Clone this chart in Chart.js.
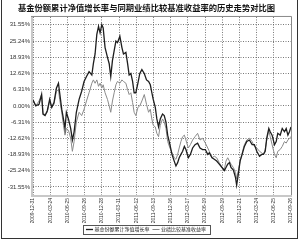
<!DOCTYPE html>
<html>
<head>
<meta charset="utf-8">
<script src="https://cdn.jsdelivr.net/npm/chart.js@4"></script>
<style>
  html, body { margin: 0; padding: 0; background: #fff; }
  #wrap { width: 300px; height: 242px; }
</style>
</head>
<body>
<div id="wrap"><canvas id="navChart" width="300" height="242"></canvas></div>
<script>
// Tick labels along the bottom axis (one per vertical grid line)
const dateTicks = ['2009-12-31', '2010-03-24', '2010-06-25', '2010-09-26', '2010-12-28', '2011-03-11',
    '2011-06-12', '2011-09-13', '2011-12-16', '2012-03-17', '2012-06-19', '2012-09-19',
    '2012-12-21', '2013-03-24', '2013-06-25', '2013-09-26'];

// Position of each sample, measured in date-tick units (0 = first tick)
const datePos = [0, 0.16, 0.35, 0.5, 0.58, 0.7, 0.83, 0.97, 1.09, 1.22,
    1.36, 1.48, 1.55, 1.67, 1.77, 1.86, 1.94, 2.06, 2.19, 2.29,
    2.39, 2.52, 2.68, 2.83, 2.97, 3.11, 3.26, 3.42, 3.51, 3.61,
    3.71, 3.81, 3.9, 4.0, 4.08, 4.19, 4.33, 4.43, 4.52, 4.62,
    4.72, 4.82, 4.91, 5.05, 5.17, 5.26, 5.4, 5.5, 5.59, 5.69,
    5.79, 5.88, 5.98, 6.1, 6.21, 6.33, 6.47, 6.6, 6.72, 6.82,
    6.91, 6.99, 7.11, 7.2, 7.3, 7.4, 7.53, 7.63, 7.73, 7.83,
    7.96, 8.08, 8.21, 8.31, 8.41, 8.5, 8.6, 8.7, 8.8, 8.89,
    9.03, 9.15, 9.28, 9.42, 9.57, 9.71, 9.86, 10.02, 10.16, 10.25,
    10.41, 10.54, 10.68, 10.83, 10.99, 11.13, 11.22, 11.32, 11.42, 11.51,
    11.65, 11.77, 11.84, 11.94, 12.04, 12.16, 12.29, 12.43, 12.58, 12.74,
    12.87, 13.01, 13.17, 13.3, 13.4, 13.5, 13.59, 13.71, 13.79, 13.9,
    14.04, 14.14, 14.23, 14.37, 14.49, 14.62, 14.72, 14.82, 14.91, 15.0];

// 基金份额累计净值增长率 (%)
const fundGrowth = [2.3, 0, 0.6, 4.4, -3.2, -3.8, -1.9, 2.5, -0.6, 1.3,
    6.9, 8.8, 5.1, -1.3, -5.1, -8.8, -2.5, -5.1, -8.8, -13.3,
    -10.1, -2.5, 2.5, 5.7, 9.5, 11.4, 13.3, 12.0, 16.4, 20.2,
    27.8, 30.9, 28.4, 31.6, 30.3, 22.7, 18.9, 16.4, 11.4, 17.7,
    21.5, 25.2, 24.6, 27.1, 22.7, 20.2, 20.8, 16.4, 12.0, 12.6,
    9.5, 5.1, 5.1, 8.8, 12.6, 14.1, 12.6, 10.1, 9.5, 8.2,
    5.1, 2.5, -0.6, -5.1, -8.2, -5.1, -3.2, -3.8, -6.3, -11.4,
    -15.1, -18.9, -21.5, -23.4, -22.1, -20.2, -18.9, -17.7, -15.8, -17.0,
    -20.2, -18.9, -16.4, -15.1, -14.5, -16.4, -17.0, -17.0, -18.9, -18.3,
    -20.2, -20.8, -21.5, -22.7, -24.0, -25.2, -24.0, -22.7, -22.1, -24.0,
    -25.0, -27.8, -30.9, -26.5, -21.5, -18.9, -15.8, -13.9, -13.3, -15.1,
    -15.1, -17.7, -19.6, -18.9, -18.9, -17.7, -12.6, -8.8, -10.1, -11.4,
    -15.1, -13.9, -10.7, -11.4, -8.8, -10.1, -8.8, -11.4, -10.1, -8.2];

// 业绩比较基准收益率 (%)
const benchReturn = [2.3, 0, 1.9, 4.4, -2.5, -3.8, -2.5, 1.9, -0.6, 0.6,
    5.7, 6.3, 2.5, -2.5, -7.6, -11.4, -8.8, -9.5, -12.6, -17.7,
    -13.9, -6.3, -2.5, -3.8, -1.3, 1.9, 5.1, 8.8, 10.1, 8.8,
    10.1, 7.6, 8.8, 6.9, 8.2, 5.1, 2.5, 0, -2.5, 1.9,
    5.1, 8.2, 9.5, 8.8, 10.1, 9.5, 8.8, 6.3, 4.4, 5.1,
    1.3, -2.5, -3.8, -0.6, 0, 1.9, 4.4, 0.6, -2.5, -1.3,
    -5.1, -7.6, -8.2, -10.7, -12.0, -7.6, -5.1, -6.3, -8.8, -13.9,
    -16.4, -18.3, -20.2, -20.8, -18.9, -16.4, -13.9, -12.0, -11.4, -13.3,
    -16.4, -15.1, -13.3, -12.0, -10.7, -13.3, -12.6, -14.5, -16.4, -17.7,
    -20.2, -19.6, -20.2, -22.1, -24.0, -24.6, -21.5, -20.2, -21.5, -22.7,
    -24.0, -25.9, -28.4, -25.2, -21.5, -18.3, -15.1, -13.3, -12.6, -13.9,
    -15.8, -16.4, -17.7, -18.3, -18.9, -17.0, -13.3, -9.5, -12.0, -15.1,
    -18.9, -20.2, -17.7, -17.0, -15.8, -13.9, -14.5, -13.3, -12.6, -12.0];

// Y tick values (%)
const yTicks = [31.55, 25.24, 18.93, 12.62, 6.31, 0, -6.31, -12.62, -18.93, -25.24, -31.55];

function toPoints(values) {
    return values.map((v, i) => ({ x: datePos[i], y: v }));
}

// Plot border + outer frame + box round the legend
const framePlugin = {
    id: 'frames',
    beforeDatasetsDraw(chart) {
        const { ctx, chartArea: a } = chart;
        ctx.save();
        ctx.fillStyle = '#c8c8c8';
        ctx.fillRect(a.left - 2, a.top, 2, a.bottom - a.top + 2);
        ctx.fillRect(a.left - 2, a.bottom, a.right - a.left + 3, 2);
        ctx.strokeStyle = '#888';
        ctx.lineWidth = 1;
        ctx.beginPath();
        ctx.moveTo(a.left - 2, a.top - 0.5);
        ctx.lineTo(a.right + 0.5, a.top - 0.5);
        ctx.lineTo(a.right + 0.5, a.bottom);
        ctx.stroke();
        ctx.restore();
    },
    afterDraw(chart) {
        const { ctx } = chart;
        ctx.save();
        ctx.strokeStyle = '#333';
        ctx.lineWidth = 1;
        ctx.strokeRect(1.5, -2, 296, 240.5);
        const boxes = chart.legend.legendHitBoxes;
        if (boxes && boxes.length) {
            const left = Math.min(...boxes.map(b => b.left)) - 4;
            const right = Math.max(...boxes.map(b => b.left + b.width)) + 4;
            const top = Math.min(...boxes.map(b => b.top)) - 2;
            const bottom = Math.max(...boxes.map(b => b.top + b.height)) + 2;
            ctx.strokeStyle = '#555';
            ctx.strokeRect(Math.round(left) + 0.5, Math.round(top) + 0.5,
                Math.round(right - left), Math.round(bottom - top));
        }
        ctx.restore();
    }
};

new Chart(document.getElementById('navChart'), {
    type: 'line',
    data: {
        datasets: [{
            label: '基金份额累计净值增长率',
            data: toPoints(fundGrowth),
            borderColor: '#1e1e1e',
            borderWidth: 1.3,
            pointRadius: 0,
            tension: 0,
            fill: false
        }, {
            label: '业绩比较基准收益率',
            data: toPoints(benchReturn),
            borderColor: '#8a8a8a',
            borderWidth: 1,
            pointRadius: 0,
            tension: 0,
            fill: false
        }]
    },
    options: {
        responsive: false,
        animation: false,
        devicePixelRatio: 1,
        layout: { padding: { left: 0, right: 7, top: 0, bottom: 0 } },
        plugins: {
            title: {
                display: true,
                text: '基金份额累计净值增长率与同期业绩比较基准收益率的历史走势对比图',
                color: '#111',
                font: { family: '"Noto Sans CJK SC", sans-serif', size: 8.3, weight: 'bold', lineHeight: 1.2 },
                padding: { top: 3, bottom: 4 }
            },
            legend: {
                position: 'bottom',
                labels: {
                    usePointStyle: true,
                    pointStyle: 'line',
                    boxWidth: 8,
                    padding: 4,
                    color: '#222',
                    font: { family: '"Noto Sans CJK SC", sans-serif', size: 5 }
                }
            },
            tooltip: { enabled: false }
        },
        scales: {
            x: {
                type: 'linear',
                min: 0,
                max: 15,
                afterBuildTicks(scale) {
                    scale.ticks = dateTicks.map((_, i) => ({ value: i }));
                },
                afterFit(scale) { scale.height = 28; },
                ticks: {
                    autoSkip: false,
                    minRotation: 90,
                    maxRotation: 90,
                    padding: 3,
                    color: '#333',
                    font: { family: 'Liberation Sans, sans-serif', size: 5 },
                    callback: (v) => dateTicks[v] || ''
                },
                grid: { color: '#555', drawTicks: false, lineWidth: 0.8 },
                border: { display: false, dash: [1, 1.5] }
            },
            y: {
                min: -34.7,
                max: 34.6,
                afterBuildTicks(scale) {
                    scale.ticks = yTicks.map(v => ({ value: v }));
                },
                afterFit(scale) { scale.width = 33; },
                ticks: {
                    padding: 3,
                    color: '#333',
                    font: { family: 'Liberation Sans, sans-serif', size: 6 },
                    callback: (v) => v.toFixed(2) + '%'
                },
                grid: { color: '#555', drawTicks: false, lineWidth: 0.8 },
                border: { display: false, dash: [1, 1.5] }
            }
        }
    },
    plugins: [framePlugin]
});
</script>
</body>
</html>
